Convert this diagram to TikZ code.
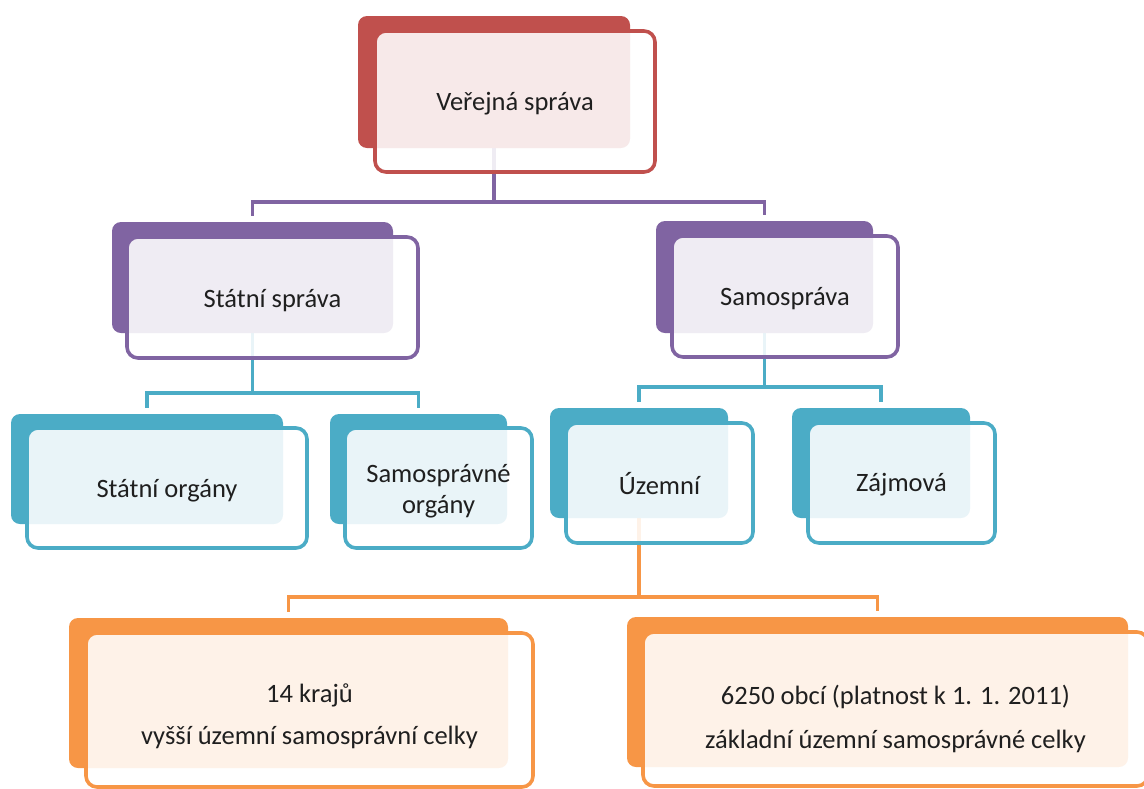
\documentclass[tikz,border=0pt]{standalone}
\usepackage{fontspec}
\setmainfont{Carlito}
\usetikzlibrary{fit,backgrounds}
\definecolor{cred}{HTML}{C0504D}
\definecolor{cpurple}{HTML}{8064A2}
\definecolor{cteal}{HTML}{4BACC6}
\definecolor{corange}{HTML}{F79646}
\definecolor{ctext}{HTML}{1F1F1F}
\tikzset{
  backbox/.style={fill=#1, draw=none, rounded corners=9pt, inner sep=0pt, outer sep=0pt},
  frontbox/.style={draw=#1, line width=3.6pt, fill=white, fill opacity=0.88, text opacity=1,
    rounded corners=11pt, inner sep=0pt, outer sep=0pt},
  txt/.style={text=ctext, align=center, inner sep=0pt, fill=none, draw=none,
    fill opacity=1, text opacity=1, font=\fontsize{26.5}{30.5}\selectfont},
  link/.style={draw=#1, line width=3.6pt, shorten >=6pt},
}
\begin{document}
\begin{tikzpicture}[x=1pt,y=-1pt]
\useasboundingbox (0,0) rectangle (1144,788);
\clip (0,0) rectangle (1144,788);
% back boxes
\node[backbox=cred,    fit={(358,16) (630,148)}]  (bA) {};
\node[backbox=cpurple, fit={(112,222) (393,333)}] (bB) {};
\node[backbox=cpurple, fit={(656,221) (873,333)}] (bC) {};
\node[backbox=cteal,   fit={(11,414) (283,524)}]  (bD) {};
\node[backbox=cteal,   fit={(330,414) (507,524)}] (bE) {};
\node[backbox=cteal,   fit={(550,408) (728,518)}] (bF) {};
\node[backbox=cteal,   fit={(792,408) (970,518)}] (bG) {};
\node[backbox=corange, fit={(69,618) (508,768)}]  (bH) {};
\node[backbox=corange, fit={(627,617) (1128,767)}] (bI) {};
% bus levels
\coordinate (busA) at (0,202);
\coordinate (busB) at (0,393);
\coordinate (busC) at (0,387);
\coordinate (busF) at (0,597);
% connectors
\begin{scope}[on background layer]
\draw[link=cpurple] (bA.south) -- (bA.south |- busA) -| (bB.north);
\draw[link=cpurple] (bA.south) -- (bA.south |- busA) -| (bC.north);
\draw[link=cteal] (bB.south) -- (bB.south |- busB) -| (bD.north);
\draw[link=cteal] (bB.south) -- (bB.south |- busB) -| (bE.north);
\draw[link=cteal] (bC.south) -- (bC.south |- busC) -| (bF.north);
\draw[link=cteal] (bC.south) -- (bC.south |- busC) -| (bG.north);
\draw[link=corange] (bF.south) -- (bF.south |- busF) -| (bH.north);
\draw[link=corange] (bF.south) -- (bF.south |- busF) -| (bI.north);
\end{scope}
% front boxes
\node[frontbox=cred,    fit={(375,31) (655,172)},
  label={[txt,yshift=-2pt]center:Veřejná správa}] (fA) {};
\node[frontbox=cpurple, fit={(127,237) (418,358)},
  label={[txt,yshift=-3pt]center:Státní správa}] (fB) {};
\node[frontbox=cpurple, fit={(672,236) (898,357)},
  label={[txt,yshift=-2pt]center:Samospráva}] (fC) {};
\node[frontbox=cteal,   fit={(27,428) (307,548)},
  label={[txt,yshift=-3pt]center:Státní orgány}] (fD) {};
\node[frontbox=cteal,   fit={(345,428) (532,548)},
  label={[txt,yshift=-3pt]center:Samosprávné\\orgány}] (fE) {};
\node[frontbox=cteal,   fit={(566,423) (753,543)},
  label={[txt,yshift=-1pt]center:Územní}] (fF) {};
\node[frontbox=cteal,   fit={(808,423) (995,543)},
  label={[txt,yshift=-2pt]center:Zájmová}] (fG) {};
\node[frontbox=corange, fit={(86,633) (533,787)},
  label={[txt,yshift=-6pt]center:14 krajů\\[11pt]vyšší územní samosprávní celky}] (fH) {};
\node[frontbox=corange, fit={(643,632) (1148,786)},
  label={[txt,yshift=-10pt]center:6250 obcí (platnost k 1. 1. 2011)\\[14pt]základní územní samosprávné celky}] (fI) {};
\end{tikzpicture}
\end{document}
